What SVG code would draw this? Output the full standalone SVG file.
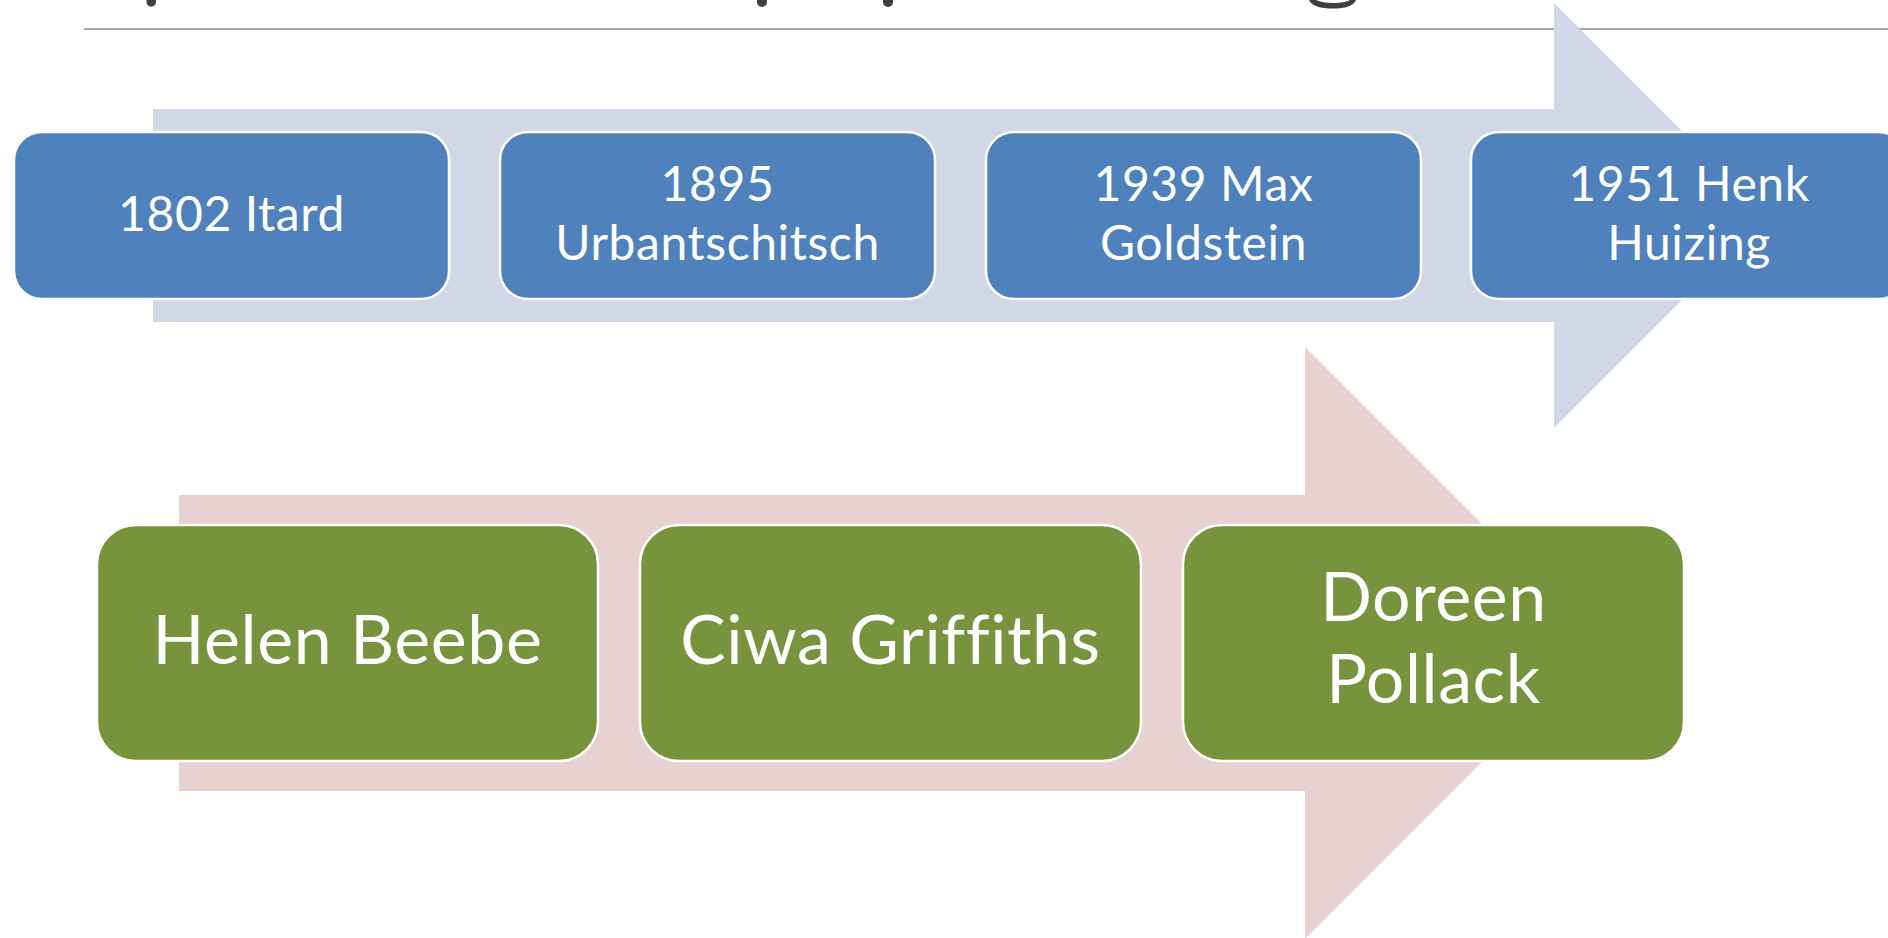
<svg xmlns="http://www.w3.org/2000/svg" width="1888" height="938" viewBox="0 0 1888 938">
  <style>
    .bg { fill: #ffffff; }
    .arrow-top { fill: #D0D8E8; }
    .arrow-bot { fill: #E7D1D1; }
    .box-blue { fill: #4F81BD; stroke: #ffffff; stroke-width: 2.5; }
    .box-green { fill: #77933C; stroke: #ffffff; stroke-width: 2.5; }
    .lbl { fill: #ffffff; font-family: Lato, "Liberation Sans", sans-serif; text-anchor: middle; }
    .s1 { font-size: 48px; letter-spacing: 0.6px; }
    .s2 { font-size: 68px; letter-spacing: 0.6px; }
    .frag { fill: #404040; }
  </style>
  <rect class="bg" x="0" y="0" width="1888" height="938"/>

  <g id="title-fragments">
    <path class="frag" d="M146.5,0 H156 V2 A4.75,4.75 0 0 1 146.5,2 Z"/>
    <path class="frag" d="M757,0 H767 V2 A5,5 0 0 1 757,2 Z"/>
    <path class="frag" d="M883,0 H893 V2 A5,5 0 0 1 883,2 Z"/>
    <path class="frag" d="M1309,0 L1316,0 C1320,2 1326,3 1333,3 C1341,3 1347,2 1350,0 L1356,0 C1354,6 1345,8.5 1333,8.5 C1321,8.5 1311,6 1309,0 Z"/>
  </g>

  <line x1="84" y1="29" x2="1888" y2="29" stroke="#A6A6A6" stroke-width="2"/>

  <g id="connectors">
    <polygon class="arrow-top" points="153,109 1554,109 1554,3 1766.5,215.5 1554,428 1554,322 153,322"/>
    <polygon class="arrow-bot" points="179,495 1305,495 1305,347 1601,643 1305,939 1305,791 179,791"/>
  </g>

  <g id="node-1802-itard">
    <rect class="box-blue" x="14" y="132" width="435" height="167" rx="28" ry="28"/>
    <text class="lbl s1" x="231.5" y="231">1802 Itard</text>
  </g>
  <g id="node-1895-urbantschitsch">
    <rect class="box-blue" x="500" y="132" width="435" height="167" rx="28" ry="28"/>
    <text class="lbl s1" x="717.5" y="201">1895</text>
    <text class="lbl s1" x="717.5" y="260">Urbantschitsch</text>
  </g>
  <g id="node-1939-goldstein">
    <rect class="box-blue" x="986" y="132" width="435" height="167" rx="28" ry="28"/>
    <text class="lbl s1" x="1203.5" y="201">1939 Max</text>
    <text class="lbl s1" x="1203.5" y="260">Goldstein</text>
  </g>
  <g id="node-1951-huizing">
    <rect class="box-blue" x="1471" y="132" width="435" height="167" rx="28" ry="28"/>
    <text class="lbl s1" x="1689" y="201">1951 Henk</text>
    <text class="lbl s1" x="1689" y="260">Huizing</text>
  </g>

  <g id="node-helen-beebe">
    <rect class="box-green" x="97" y="525" width="501" height="236" rx="39" ry="39"/>
    <text class="lbl s2" x="347.5" y="664">Helen Beebe</text>
  </g>
  <g id="node-ciwa-griffiths">
    <rect class="box-green" x="640" y="525" width="501" height="236" rx="39" ry="39"/>
    <text class="lbl s2" x="890.5" y="664">Ciwa Griffiths</text>
  </g>
  <g id="node-doreen-pollack">
    <rect class="box-green" x="1183" y="525" width="501" height="236" rx="39" ry="39"/>
    <text class="lbl s2" x="1433.5" y="621">Doreen</text>
    <text class="lbl s2" x="1433.5" y="703">Pollack</text>
  </g>
</svg>
